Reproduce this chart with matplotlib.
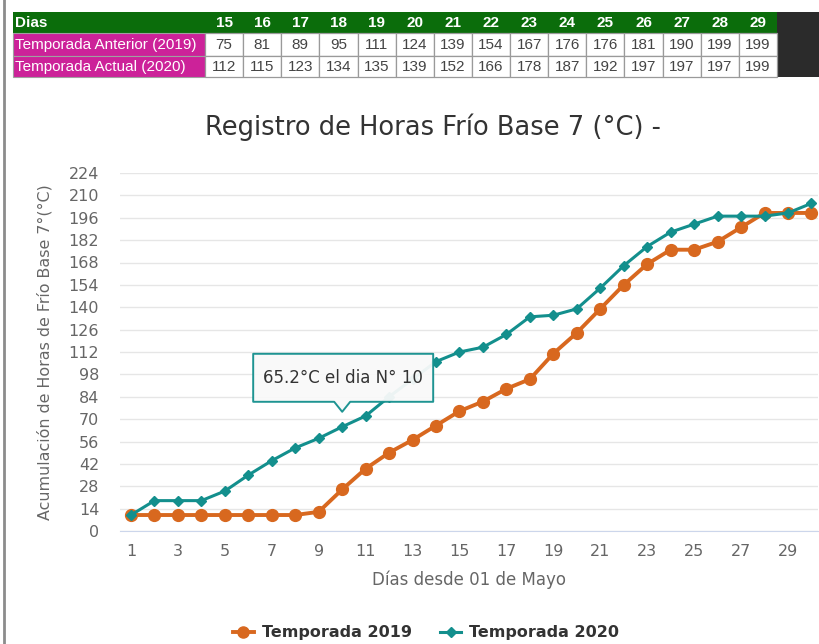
import matplotlib
matplotlib.use('Agg')
import matplotlib.pyplot as plt
from matplotlib.patches import Rectangle, Polygon
from matplotlib.lines import Line2D

# ---------------- data ----------------
days = list(range(1, 31))
temporada_2019 = [10, 10, 10, 10, 10, 10, 10, 10, 12, 26, 39, 49, 57, 66,
                  75, 81, 89, 95, 111, 124, 139, 154, 167, 176, 176, 181, 190, 199, 199,
                  199]
temporada_2020 = [10, 19, 19, 19, 25, 35, 44, 52, 58, 65.2, 72, 84, 95, 106,
                  112, 115, 123, 134, 135, 139, 152, 166, 178, 187, 192, 197, 197, 197, 199,
                  205]
table_days = days[14:29]
table_2019 = temporada_2019[14:29]
table_2020 = temporada_2020[14:29]
y_ticks = list(range(0, 225, 14))
x_ticks = list(range(1, 30, 2))
row_labels = ["Temporada Anterior (2019)", "Temporada Actual (2020)"]
tooltip_day = 10

ORANGE = '#d8681f'
TEAL = '#138f8d'
FONT = 'DejaVu Sans'
W, H = 820, 644

fig = plt.figure(figsize=(W / 100, H / 100), dpi=100)
fig.patch.set_facecolor('white')

# ---------------- main chart ----------------
left, right, top, bottom = 120, 818, 173, 531
ax = fig.add_axes([left / W, 1 - bottom / H, (right - left) / W, (bottom - top) / H])
ax.set_zorder(1)
ax.plot(days, temporada_2019, color=ORANGE, lw=2.8, marker='o', ms=8.5,
        label='Temporada 2019', zorder=3, solid_joinstyle='round')
ax.plot(days, temporada_2020, color=TEAL, lw=2.2, marker='D', ms=5.5,
        label='Temporada 2020', zorder=4)
ax.set_xlim(0.53, 30.28)
ax.set_ylim(0, 224)
ax.set_yticks(y_ticks)
ax.set_xticks(x_ticks)
ax.grid(axis='y', color='#e6e6e6', lw=1)
ax.set_axisbelow(True)
for s in ['top', 'right', 'left']:
    ax.spines[s].set_visible(False)
ax.spines['bottom'].set_color('#ccd6eb')
ax.tick_params(axis='both', length=0, labelcolor='#666666', labelsize=11.5)
ax.tick_params(axis='y', pad=15)
ax.tick_params(axis='x', pad=9)
for lab in ax.get_xticklabels() + ax.get_yticklabels():
    lab.set_family(FONT)
ax.set_xlabel('Días desde 01 de Mayo', fontsize=12, color='#666666', family=FONT)
ax.xaxis.set_label_coords(0.5, -0.137)
ax.xaxis.label.set_va('center')
ax.set_ylabel('Acumulación de Horas de Frío Base 7°(°C)', fontsize=11.4, color='#666666',
              family=FONT)
ax.yaxis.set_label_coords((45 - left) / (right - left), 0.5)
ax.yaxis.label.set_va('center')

fig.text(433 / W, 1 - 127 / H, 'Registro de Horas Frío Base 7 (°C) -', ha='center', va='center',
         fontsize=18.5, color='#333333', family=FONT)

handles = [Line2D([], [], color=ORANGE, lw=2.8, marker='o', ms=8),
           Line2D([], [], color=TEAL, lw=2.2, marker='D', ms=5)]
leg = fig.legend(handles, ['Temporada 2019', 'Temporada 2020'], loc='center',
                 bbox_to_anchor=(426 / W, 1 - 633 / H), ncol=2, frameon=False,
                 handlelength=1.3, handletextpad=0.5, columnspacing=1.8,
                 prop={'family': FONT, 'weight': 'bold', 'size': 11.5})
for t in leg.get_texts():
    t.set_color('#333333')

# ---------------- overlay (table, tooltip, border) ----------------
ov = fig.add_axes([0, 0, 1, 1])
ov.set_zorder(5)
ov.patch.set_alpha(0)
ov.set_xlim(0, W)
ov.set_ylim(H, 0)
ov.axis('off')

# left border
ov.plot([4, 4], [0, H], color='#8c8c8c', lw=2)

# table
GREEN = '#0b6d0b'
MAGENTA = '#cc2299'
rows_y = [12, 33, 56, 77]
x0, xl, xe = 13, 205, 777
cw = (xe - xl) / len(table_days)
tfont = dict(family='Liberation Sans', fontsize=11)
ov.add_patch(Rectangle((x0, rows_y[0]), xe - x0, rows_y[1] - rows_y[0], facecolor=GREEN,
                       edgecolor='none'))
ov.add_patch(Rectangle((xe, rows_y[0]), W - xe, rows_y[3] - rows_y[0], facecolor='#2b2b2b',
                       edgecolor='none'))
ov.text(x0 + 2, (rows_y[0] + rows_y[1]) / 2, 'Dias', color='white', ha='left', va='center',
        fontweight='bold', **tfont)
for i, d in enumerate(table_days):
    ov.text(xl + cw * (i + 0.5), (rows_y[0] + rows_y[1]) / 2, str(d), color='white',
            ha='center', va='center', fontweight='bold', **tfont)
for r, (lab, vals) in enumerate(zip(row_labels, [table_2019, table_2020])):
    y0, y1 = rows_y[r + 1], rows_y[r + 2]
    ov.add_patch(Rectangle((x0, y0), xl - x0, y1 - y0, facecolor=MAGENTA,
                           edgecolor='#a0a0a0', lw=0.8))
    ov.text(x0 + 2, (y0 + y1) / 2, lab, color='white', ha='left', va='center', **tfont)
    for i, v in enumerate(vals):
        ov.add_patch(Rectangle((xl + cw * i, y0), cw, y1 - y0, facecolor='white',
                               edgecolor='#9a9a9a', lw=0.9))
        ov.text(xl + cw * (i + 0.5), (y0 + y1) / 2, f'{v:g}', color='#444444',
                ha='center', va='center', **tfont)

# tooltip
fig.canvas.draw()
px, py = ax.transData.transform((tooltip_day, temporada_2020[tooltip_day - 1]))
py = H - py
tip_x, tip_y = px, py - 15
bl, br, bt, bb = tip_x - 89, tip_x + 91, tip_y - 58, tip_y - 10
poly = [(bl, bt), (br, bt), (br, bb), (tip_x + 8, bb), (tip_x, tip_y), (tip_x - 8, bb), (bl, bb)]
ov.add_patch(Polygon(poly, closed=True, facecolor='#f9f9f9', edgecolor=TEAL, lw=1.4,
                     alpha=0.95, joinstyle='round'))
ov.text((bl + br) / 2, (bt + bb) / 2, f'{temporada_2020[tooltip_day - 1]}°C el dia N° {tooltip_day}',
        ha='center', va='center', fontsize=12, color='#333333', family=FONT)

fig.savefig('out.png', dpi=100)
